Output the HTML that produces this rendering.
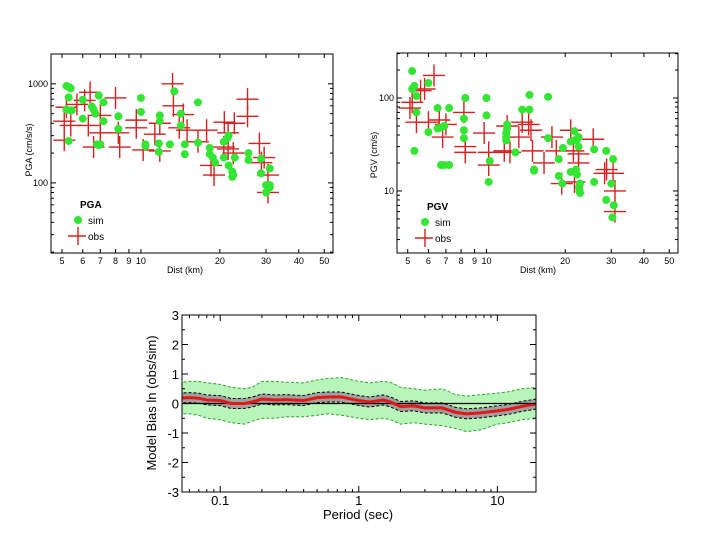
<!DOCTYPE html>
<html><head><meta charset="utf-8"><style>
body{margin:0;background:#fff;width:720px;height:540px;overflow:hidden}
svg{font-family:"Liberation Sans",sans-serif}
</style></head><body>
<svg id="s" width="720" height="540"><defs><clipPath id="bc"><rect x="182" y="315" width="354" height="177"/></clipPath></defs></svg>
<script>
// ---- data ----
const pgaSim=[[5.2,950],[5.35,920],[5.4,900],[5.3,730],[5.2,550],[5.4,540],[5.45,540],[5.3,265],[6,690],[6,445],[6.5,590],[6.6,550],[6.7,500],[6.9,760],[7.2,650],[7.2,420],[6.8,245],[7,245],[6.9,240],[8.2,470],[8.2,350],[10,720],[10,520],[10.4,245],[10.4,235],[11.8,480],[11.8,420],[11.7,250],[11.7,205],[12.9,245],[13.4,840],[14.2,500],[14.2,380],[14.7,245],[14.7,195],[16.5,650],[16.5,255],[18.3,225],[18.3,195],[18.8,180],[19.2,160],[20.7,260],[20.7,180],[21.3,280],[21.6,300],[21.6,150],[22.3,130],[22.5,120],[22.3,115],[22.8,180],[25.7,200],[25.7,170],[28.7,175],[28.7,125],[30,95],[30,80],[31,90],[31,95],[31,140]];
const pgaObs=[[5.2,580],[5.1,420],[5.4,380],[5.1,270],[5.7,620],[6.1,680],[6.4,820],[6.3,380],[6.6,230],[7,480],[7,320],[8,720],[8.2,320],[8.3,230],[9.6,430],[9.6,360],[10.2,215],[11.3,310],[11.8,400],[11.8,210],[13.2,1000],[13.3,600],[14,360],[14.5,490],[15,340],[16.5,260],[17.8,340],[18.5,150],[19,120],[20.7,230],[20.8,410],[21.5,320],[21.5,220],[22.7,400],[22.5,200],[25.5,700],[25.5,470],[28.3,250],[28.8,160],[29.5,180],[30.5,120],[30.5,80]];
const pgvSim=[[5.2,195],[5.2,125],[5.3,135],[5.4,105],[5.4,70],[5.3,27],[6,145],[6,43],[6.5,78],[6.5,47],[6.7,48],[6.9,50],[7.2,78],[6.7,19],[6.9,19],[7.2,19],[8.3,100],[8.2,60],[8.2,45],[8.2,37],[10,100],[10,65],[10.3,21],[10.2,12.5],[12,52],[12,47],[11.9,42],[11.9,38],[11.9,35],[12.9,26],[13.7,75],[14.6,108],[14.6,75],[15.2,17],[15.2,16.5],[17.2,103],[17.2,37],[18.9,22],[18.9,14.5],[19.5,12],[19.6,29],[21,34],[21,16],[21.7,44],[21.7,35],[22,17],[22.2,36],[22.5,38],[22.5,30],[22.2,15],[22.6,11],[22.7,10],[22.8,9.5],[22.8,12],[25.8,28],[25.8,12.5],[28.7,27],[28.7,8],[30,12],[30.5,22],[30.7,7],[30.3,5.2]];
const pgvObs=[[5.2,90],[5.1,78],[5.4,55],[5.6,120],[5.8,125],[6,55],[6.3,175],[6.6,58],[6.8,38],[7,52],[8.2,70],[8.3,26],[8.3,30],[9.8,42],[10.2,26],[10.2,19],[11.7,27],[12,50],[12.3,26],[13.3,38],[13.7,55],[14.5,52],[14.8,45],[15,27],[16.6,20],[17.8,38],[18.5,27],[19.4,12],[21,45],[21.5,27],[21.7,12.5],[22.5,20],[22.5,25],[25.6,36],[28.3,15.5],[28.8,17],[30.5,15.5],[31,10],[31,6]];
const distTicks=[5,6,7,8,9,10,20,30,40,50];
const distTickLabels=["5","6","7","8","9","10","20","30","40","50"];
const periods=[0.05,0.06,0.07,0.08,0.1,0.12,0.15,0.17,0.2,0.25,0.3,0.4,0.5,0.6,0.75,1,1.2,1.5,1.7,2,2.5,3,4,5,6,7.5,10,12,15,20];
const biasMean=[0.18,0.2,0.18,0.12,0.1,0.0,0.0,0.05,0.15,0.12,0.13,0.1,0.2,0.22,0.22,0.1,0.05,0.12,0.05,-0.1,-0.08,-0.15,-0.15,-0.3,-0.35,-0.32,-0.25,-0.2,-0.1,0.0];
const biasUpper=[0.7,0.75,0.75,0.7,0.65,0.55,0.5,0.55,0.75,0.75,0.72,0.7,0.8,0.85,0.88,0.75,0.7,0.75,0.72,0.55,0.5,0.45,0.5,0.3,0.25,0.3,0.35,0.4,0.5,0.55];
const biasLower=[-0.35,-0.35,-0.4,-0.5,-0.55,-0.65,-0.7,-0.6,-0.5,-0.5,-0.45,-0.45,-0.4,-0.35,-0.4,-0.5,-0.55,-0.5,-0.55,-0.7,-0.65,-0.7,-0.75,-0.85,-0.95,-0.9,-0.7,-0.65,-0.55,-0.5];
const biasSE=0.17;
const periodTicks=[0.1,1,10];
const periodTickLabels=["0.1","1","10"];
const biasTicks=[3,2,1,0,-1,-2,-3];

const S=document.getElementById('s');
const NS='http://www.w3.org/2000/svg';
function mk(tag,at,txt){const e=document.createElementNS(NS,tag);for(const k in at)e.setAttribute(k,at[k]);if(txt!==undefined)e.textContent=txt;S.appendChild(e);return e;}
const L=Math.log10;
function logScale(d0,d1,r0,r1){return v=>r0+(L(v)-L(d0))/(L(d1)-L(d0))*(r1-r0);}
function linScale(d0,d1,r0,r1){return v=>r0+(v-d0)/(d1-d0)*(r1-r0);}

function scatterPanel(p){
  const x=logScale(p.xd[0],p.xd[1],p.box[0],p.box[2]);
  const y=logScale(p.yd[0],p.yd[1],p.box[3],p.box[1]);
  let r=mk('rect',{x:p.box[0],y:p.box[1],width:p.box[2]-p.box[0],height:p.box[3]-p.box[1],fill:'#fff',stroke:'#000','stroke-width':1});
  
  distTicks.forEach((t,i)=>{const xx=x(t);
    mk('line',{x1:xx,x2:xx,y1:p.box[3],y2:p.box[3]-4,stroke:'#000'});mk('line',{x1:xx,x2:xx,y1:p.box[1],y2:p.box[1]+4,stroke:'#000'});
    const tl=mk('text',{x:xx,y:p.box[3]+11,'font-size':9,'text-anchor':'middle'},distTickLabels[i]);
    });
  for(let dec=-1;dec<5;dec++)for(let m=1;m<10;m++){const v=m*Math.pow(10,dec);if(v<p.yd[0]||v>p.yd[1])continue;const yy=y(v);const len=m==1?5:3;
    mk('line',{x1:p.box[0],x2:p.box[0]+len,y1:yy,y2:yy,stroke:'#000'});mk('line',{x1:p.box[2],x2:p.box[2]-len,y1:yy,y2:yy,stroke:'#000'});}
  p.yLabels.forEach(t=>{const tl=mk('text',{x:p.box[0]-3,y:y(t)+3,'font-size':9,'text-anchor':'end'},String(t));
    });
  const xt=mk('text',{x:p.xtx,y:p.box[3]+20,'font-size':9,'text-anchor':'middle'},'Dist (km)');
  
  const yt=mk('text',{x:0,y:0,'font-size':9,'text-anchor':'middle',transform:`translate(${p.ytx},${p.yty}) rotate(-90)`},p.ytitle);
  
  p.obs.forEach(d=>{const cx=x(d[0]),cy=y(d[1]);
    const g=mk('path',{d:`M${cx-11} ${cy}H${cx+11}M${cx} ${cy-11}V${cy+11}`,stroke:'#d42020','stroke-width':1.4,fill:'none'});
    });
  p.sim.forEach(d=>{const c=mk('circle',{cx:x(d[0]),cy:y(d[1]),r:4,fill:'#33e633'});
    });
  const lx=p.leg[0],ly=p.leg[1];
  let t=mk('text',{x:lx+6,y:ly,'font-size':10,'font-weight':'bold'},p.title);
  let c=mk('circle',{cx:lx+4,cy:ly+12,r:4,fill:'#33e633'});
  t=mk('text',{x:lx+14,y:ly+16,'font-size':10},'sim');
  let cr=mk('path',{d:`M${lx-6} ${ly+28}H${lx+12}M${lx+4} ${ly+19}V${ly+37}`,stroke:'#d42020','stroke-width':1.4});
  t=mk('text',{x:lx+14,y:ly+32,'font-size':10},'obs');
}
scatterPanel({id:'pga',box:[51,54,333,253],xd:[4.54,54],yd:[19.6,2000],yLabels:[1000,100],sim:pgaSim,obs:pgaObs,
  xtx:185,ytx:32,yty:150,ytitle:'PGA (cm/s/s)',title:'PGA',leg:[74,208]});
scatterPanel({id:'pgv',box:[397,53,678,253],xd:[4.55,54],yd:[2.15,305],yLabels:[100,10],sim:pgvSim,obs:pgvObs,
  xtx:538,ytx:377,yty:155,ytitle:'PGV (cm/s)',title:'PGV',leg:[421,210]});

(function(){
  const b=[182,315,536,492];
  const x=logScale(0.053,19,b[0],b[2]);
  const y=linScale(-3,3,b[3],b[1]);
  let r=mk('rect',{x:b[0],y:b[1],width:b[2]-b[0],height:b[3]-b[1],fill:'#fff',stroke:'none'});
  
  const up=periods.map((p,i)=>[x(p),y(biasUpper[i])]),lo=periods.map((p,i)=>[x(p),y(biasLower[i])]);
  const band=mk('path',{d:'M'+up.map(q=>q.join(' ')).join('L')+'L'+lo.reverse().map(q=>q.join(' ')).join('L')+'Z',fill:'#b8f5b8','clip-path':'url(#bc)'});
  
  const line=(arr,at,name)=>{const e=mk('path',Object.assign({d:'M'+periods.map((p,i)=>x(p)+' '+y(arr[i])).join('L'),fill:'none','clip-path':'url(#bc)'},at));return e;};
  line(biasUpper,{stroke:'#2ea02e','stroke-dasharray':'3 2','stroke-width':1},'sigma-upper');
  line(biasLower,{stroke:'#2ea02e','stroke-dasharray':'3 2','stroke-width':1},'sigma-lower');
  const su=periods.map((p,i)=>x(p)+' '+y(biasMean[i]+biasSE)),sl=periods.map((p,i)=>x(p)+' '+y(biasMean[i]-biasSE)).reverse();
  const se=mk('path',{d:'M'+su.join('L')+'L'+sl.join('L')+'Z',fill:'#a0a0a0','clip-path':'url(#bc)'});
  line(biasMean.map(v=>v+biasSE),{stroke:'#000','stroke-dasharray':'3 2'},'stderr-upper');
  line(biasMean.map(v=>v-biasSE),{stroke:'#000','stroke-dasharray':'3 2'},'stderr-lower');
  const z=mk('line',{x1:b[0],x2:b[2],y1:y(0),y2:y(0),stroke:'#000','stroke-width':1.2});
  line(biasMean,{stroke:'#e01818','stroke-width':3},'mean-bias-line');
  mk('rect',{x:b[0],y:b[1],width:b[2]-b[0],height:b[3]-b[1],fill:'none',stroke:'#000'});
  for(let dec=-2;dec<2;dec++)for(let m=1;m<10;m++){const v=m*Math.pow(10,dec);if(v<0.053||v>19)continue;const xx=x(v),len=m==1?6:3;
    mk('line',{x1:xx,x2:xx,y1:b[3],y2:b[3]-len,stroke:'#000'});mk('line',{x1:xx,x2:xx,y1:b[1],y2:b[1]+len,stroke:'#000'});}
  periodTicks.forEach((t,i)=>{const tl=mk('text',{x:x(t),y:505,'font-size':13,'text-anchor':'middle'},periodTickLabels[i]);});
  for(let v=-3;v<=3;v+=0.5){const yy=y(v),len=Number.isInteger(v)?6:3;
    mk('line',{x1:b[0],x2:b[0]+len,y1:yy,y2:yy,stroke:'#000'});mk('line',{x1:b[2],x2:b[2]-len,y1:yy,y2:yy,stroke:'#000'});}
  biasTicks.forEach(t=>{const tl=mk('text',{x:b[0]-3,y:y(t)+5,'font-size':13,'text-anchor':'end'},String(t));});
  const xt=mk('text',{x:358,y:519,'font-size':13,'text-anchor':'middle'},'Period (sec)');
  const yt=mk('text',{x:0,y:0,'font-size':13,'text-anchor':'middle',transform:'translate(156,403) rotate(-90)'},'Model Bias ln (obs/sim)');
})();
</script>
</body></html>
